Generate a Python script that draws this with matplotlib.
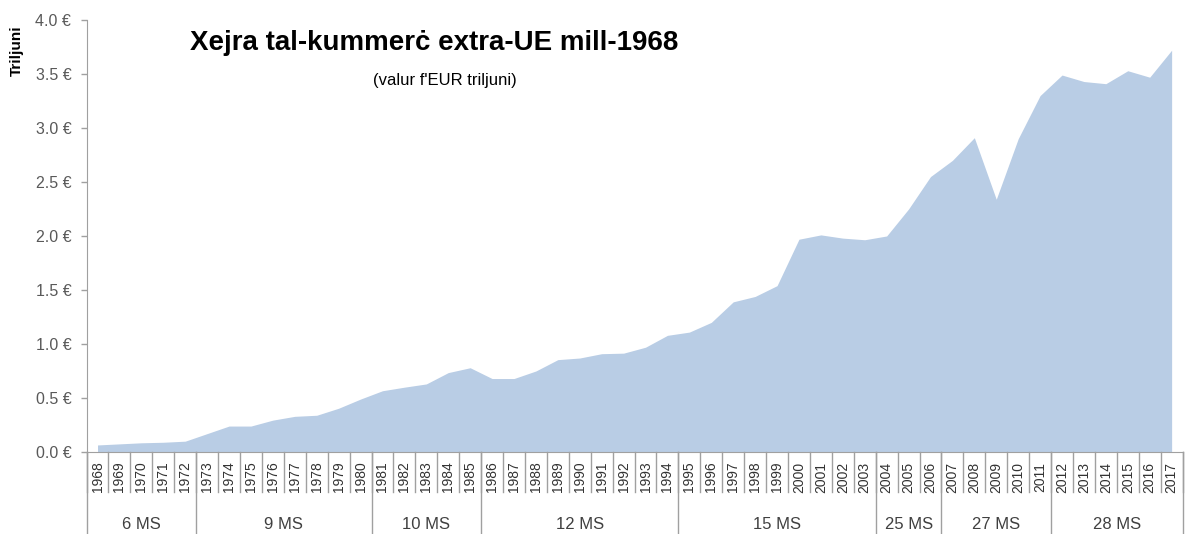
import matplotlib.pyplot as plt
import matplotlib.transforms as mtransforms

plt.rcParams['font.family'] = ['Liberation Sans', 'DejaVu Sans']

# data (EUR trillions)
years = list(range(1968, 2018))
values = [0.065, 0.075, 0.085, 0.09, 0.10, 0.17, 0.24, 0.24, 0.295, 0.33,
          0.34, 0.405, 0.49, 0.567, 0.60, 0.63, 0.735, 0.78, 0.68, 0.68,
          0.75, 0.855, 0.87, 0.91, 0.915, 0.97, 1.08, 1.11, 1.20, 1.39,
          1.44, 1.54, 1.97, 2.01, 1.98, 1.965, 2.00, 2.25, 2.55, 2.70,
          2.91, 2.34, 2.90, 3.30, 3.49, 3.43, 3.41, 3.53, 3.47, 3.72]
groups = ["6 MS", "9 MS", "10 MS", "12 MS", "15 MS", "25 MS", "27 MS", "28 MS"]
group_sizes = [5, 8, 5, 9, 9, 3, 5, 6]

grey = '#A0A0A0'
fig = plt.figure(figsize=(11.89, 5.34), dpi=100)
ax = fig.add_axes([0.0728, 0.1536, 0.9218, 0.8090])

x = list(range(len(years)))
ax.fill_between(x, values, 0, color='#B9CDE5', linewidth=0)
ax.set_xlim(-0.5, len(years) - 0.5)
ax.set_ylim(0, 4.0)

ax.set_yticks([i * 0.5 for i in range(9)])
ax.set_yticklabels([f"{i * 0.5:.1f} €" for i in range(9)], fontsize=11.5, color='#595959')
ax.tick_params(axis='y', length=4, color=grey, width=1, pad=7)
ax.set_xticks([])
for s in ['top', 'right']:
    ax.spines[s].set_visible(False)
for s in ['left', 'bottom']:
    ax.spines[s].set_color(grey)

trans = mtransforms.blended_transform_factory(ax.transData, ax.transAxes)

# year labels + separators
for i, yr in enumerate(years):
    ax.text(i, -0.058, str(yr), rotation=90, ha='center', va='center',
            fontsize=10, color='#333333', transform=trans, clip_on=False)
for i in range(len(years) + 1):
    ax.plot([i - 0.5, i - 0.5], [0, -0.093], color=grey, lw=1,
            transform=trans, clip_on=False)

# group labels
start = 0
for name, n in zip(groups, group_sizes):
    ax.text(start - 0.5 + n / 2, -0.168, name, ha='center', va='center',
            fontsize=12, color='#404040', transform=trans, clip_on=False)
    ax.plot([start - 0.5, start - 0.5], [0, -0.2], color=grey, lw=1,
            transform=trans, clip_on=False)
    start += n
ax.plot([start - 0.5, start - 0.5], [0, -0.2], color=grey, lw=1,
        transform=trans, clip_on=False)

fig.text(17 / 1189, 1 - 51 / 534, "Triljuni", rotation=90, ha='center', va='center',
         fontsize=11, fontweight='bold')
fig.text(434 / 1189, 1 - 43 / 534, "Xejra tal-kummerċ extra-UE mill-1968",
         ha='center', va='center', fontsize=20, fontweight='bold')
fig.text(445 / 1189, 1 - 80 / 534, "(valur f'EUR triljuni)", ha='center', va='center',
         fontsize=12)

fig.savefig('out.png', dpi=100)
